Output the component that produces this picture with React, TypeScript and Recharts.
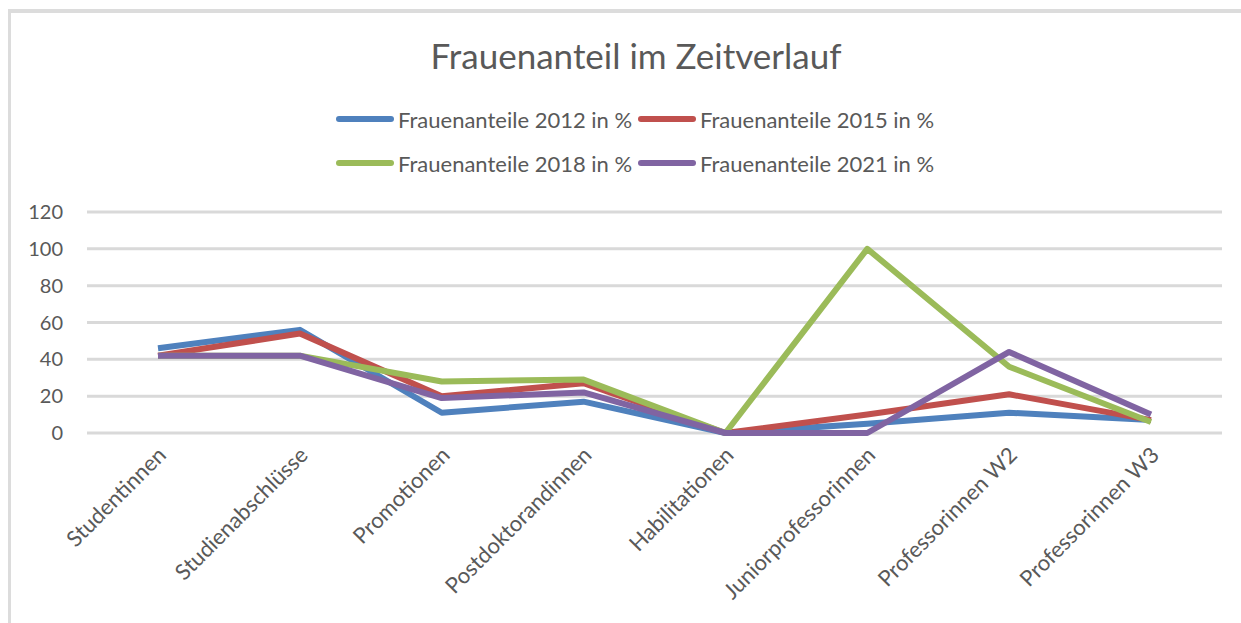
import { LineChart, Line, XAxis, YAxis, CartesianGrid } from "recharts";

const categories = [
  "Studentinnen",
  "Studienabschlüsse",
  "Promotionen",
  "Postdoktorandinnen",
  "Habilitationen",
  "Juniorprofessorinnen",
  "Professorinnen W2",
  "Professorinnen W3",
];

const share2012 = [46, 56, 11, 17, 0, 5, 11, 7];
const share2015 = [42, 54, 20, 27, 0, 10, 21, 7];
const share2018 = [42, 42, 28, 29, 0, 100, 36, 6];
const share2021 = [42, 42, 19, 22, 0, 0, 44, 10];

const yTicks = [0, 20, 40, 60, 80, 100, 120];

const series = [
  { key: "y2012", label: "Frauenanteile 2012 in %", color: "#4F81BD" },
  { key: "y2015", label: "Frauenanteile 2015 in %", color: "#C0504D" },
  { key: "y2018", label: "Frauenanteile 2018 in %", color: "#9BBB59" },
  { key: "y2021", label: "Frauenanteile 2021 in %", color: "#8064A2" },
];

const data = categories.map((name, i) => ({
  name,
  y2012: share2012[i],
  y2015: share2015[i],
  y2018: share2018[i],
  y2021: share2021[i],
}));

const FONT = "Lato, 'Open Sans', sans-serif";
const TEXT = "#595959";

function CategoryTick({ x, y, payload }: any) {
  return (
    <g transform={`translate(${x + 4},${y + 10})`}>
      <text
        transform="rotate(-45)"
        textAnchor="end"
        dy="0.35em"
        fill={TEXT}
        fontSize={22}
        fontFamily={FONT}
      >
        {payload.value}
      </text>
    </g>
  );
}

export default function App() {
  return (
    <div
      style={{
        position: "absolute",
        left: 8,
        top: 9,
        width: 1233,
        height: 614,
        boxSizing: "border-box",
        borderTop: "4px solid #dcdcdc",
        borderLeft: "3px solid #dcdcdc",
        background: "#fff",
        fontFamily: FONT,
      }}
    >
      <div
        style={{
          position: "absolute",
          left: 10,
          width: 1230,
          top: 21,
          textAlign: "center",
          fontSize: 35,
          color: TEXT,
        }}
      >
        Frauenanteil im Zeitverlauf
      </div>

      <div
        style={{
          position: "absolute",
          left: 325,
          top: 93,
          width: 620,
          display: "grid",
          gridTemplateColumns: "302px 302px",
          rowGap: 18,
        }}
      >
        {series.map((s) => (
          <div key={s.key} style={{ display: "flex", alignItems: "center", height: 26 }}>
            <span
              style={{
                display: "inline-block",
                width: 58,
                height: 6,
                borderRadius: 3,
                background: s.color,
                marginRight: 4,
              }}
            />
            <span style={{ fontSize: 22, color: TEXT, whiteSpace: "nowrap" }}>{s.label}</span>
          </div>
        ))}
      </div>

      <div style={{ position: "absolute", left: 0, top: 0 }}>
        <LineChart
          width={1230}
          height={610}
          data={data}
          margin={{ top: 199, right: 19, left: 0, bottom: 0 }}
        >
          <CartesianGrid vertical={false} stroke="#d9d9d9" strokeWidth={3} />
          <XAxis
            dataKey="name"
            axisLine={false}
            tickLine={false}
            interval={0}
            height={190}
            padding={{ left: 71, right: 71 }}
            tick={<CategoryTick />}
          />
          <YAxis
            domain={[0, 120]}
            ticks={yTicks}
            width={76}
            axisLine={false}
            tickLine={false}
            tickSize={0}
            tickMargin={24}
            tick={{ fill: TEXT, fontSize: 20, fontFamily: FONT }}
          />
          {series.map((s) => (
            <Line
              key={s.key}
              type="linear"
              dataKey={s.key}
              stroke={s.color}
              strokeWidth={6}
              strokeLinejoin="round"
              dot={false}
              activeDot={false}
              isAnimationActive={false}
            />
          ))}
        </LineChart>
      </div>
    </div>
  );
}
